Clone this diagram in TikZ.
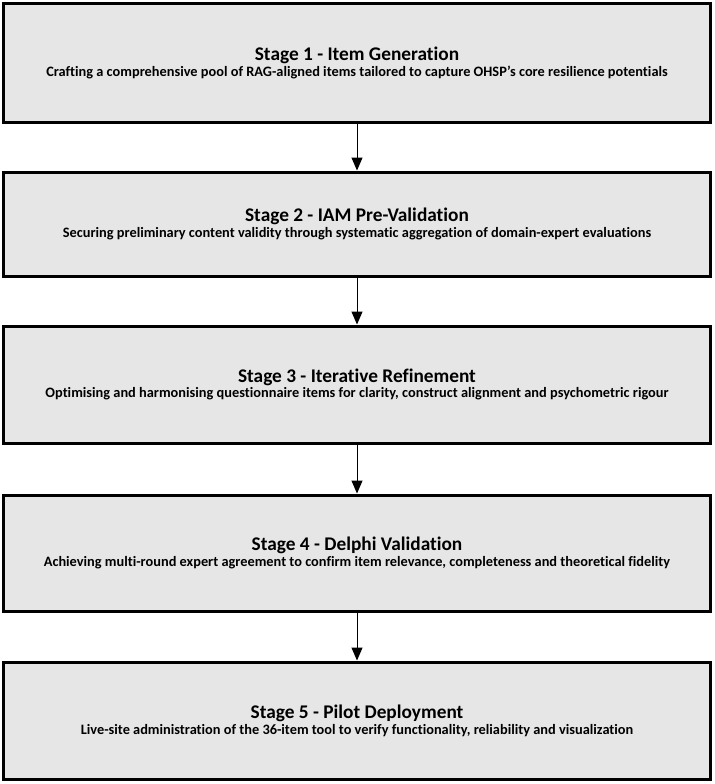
\documentclass[tikz,border=0pt]{standalone}
\usepackage{fontspec}
\setmainfont{Carlito}[Ligatures=NoCommon]
\usetikzlibrary{arrows.meta}
\definecolor{boxgray}{RGB}{230,230,230}
\tikzset{
  stagebox/.style={draw=black,fill=boxgray,line width=3bp,minimum width=706bp,
    align=center,font=\bfseries,inner sep=0pt},
  stagearrow/.style={-{Triangle[width=11bp,length=13bp]},line width=1bp}
}
\newcommand{\stagetext}[2]{{\fontsize{19.4}{18}\selectfont #1}\\[1.5bp]
  {\fontsize{14.4}{18}\selectfont #2}}
\begin{document}
\begin{tikzpicture}[x=1bp,y=-1bp]
    \useasboundingbox (0,0) rectangle (715,784);
    \node[stagebox,minimum height=118bp] (s1) at (357,63)
    {\stagetext{Stage 1 - Item Generation}{Crafting a comprehensive pool of RAG-aligned items tailored to capture OHSP’s core resilience potentials}};
    \node[stagebox,minimum height=104bp] (s2) at (357,224)
    {\stagetext{Stage 2 - IAM Pre-Validation}{Securing preliminary content validity through systematic aggregation of domain-expert evaluations}};
    \node[stagebox,minimum height=117bp] (s3) at (357,384.5)
    {\stagetext{Stage 3 - Iterative Refinement}{Optimising and harmonising questionnaire items for clarity, construct alignment and psychometric rigour}};
    \node[stagebox,minimum height=116bp] (s4) at (357,553)
    {\stagetext{Stage 4 - Delphi Validation}{Achieving multi-round expert agreement to confirm item relevance, completeness and theoretical fidelity}};
    \node[stagebox,minimum height=117bp] (s5) at (357,720.5)
    {\stagetext{Stage 5 - Pilot Deployment}{Live-site administration of the 36-item tool to verify functionality, reliability and visualization}};
    \draw[stagearrow] (s1) -- (s2);
    \draw[stagearrow] (s2) -- (s3);
    \draw[stagearrow] (s3) -- (s4);
    \draw[stagearrow] (s4) -- (s5);
  \end{tikzpicture}
\end{document}
